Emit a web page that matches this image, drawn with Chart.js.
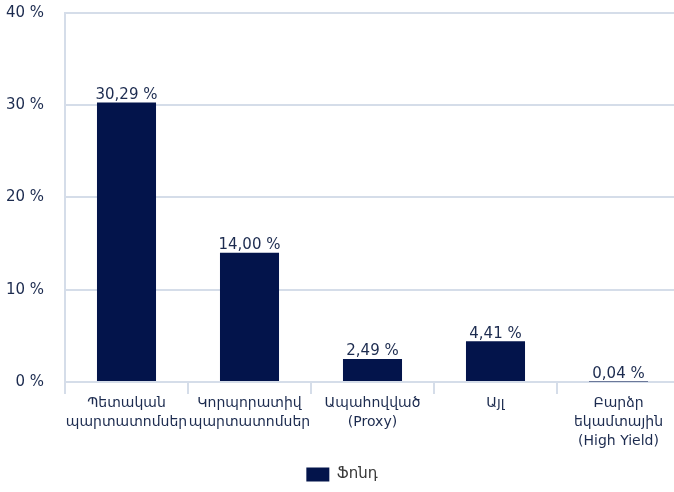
<!DOCTYPE html>
<html>
<head>
<meta charset="utf-8">
<script src="https://cdn.jsdelivr.net/npm/chart.js@4"></script>
<style>
  html, body { margin: 0; padding: 0; background: #fff; overflow: hidden; }
  #wrap { width: 680px; height: 492px; }
</style>
</head>
<body>
<div id="wrap"><canvas id="barChart"></canvas></div>
<script>
// data
const categories = [
    ['Պետական', 'պարտատոմսեր'],
    ['Կորպորատիվ', 'պարտատոմսեր'],
    ['Ապահովված', '(Proxy)'],
    ['Այլ'],
    ['Բարձր', 'եկամտային', '(High Yield)']
];
const fundValues = [30.29, 14.00, 2.49, 4.41, 0.04];
const seriesName = 'Ֆոնդ';
const yTicks = [0, 10, 20, 30, 40];

const textColor = '#1c2b4f';
const barColor = '#03144b';
const gridColor = '#d5dde9';
const fontFamily = '"DejaVu Sans", Verdana, sans-serif';
Chart.defaults.font.family = fontFamily;
Chart.defaults.font.size = 15;
Chart.defaults.color = textColor;

// labels above the bars, "30,29 %" style
const valueLabels = {
    id: 'valueLabels',
    afterDatasetsDraw(chart) {
        const ctx = chart.ctx;
        const meta = chart.getDatasetMeta(0);
        ctx.save();
        ctx.font = '15px ' + fontFamily;
        ctx.fillStyle = textColor;
        ctx.textAlign = 'center';
        ctx.textBaseline = 'bottom';
        meta.data.forEach((bar, i) => {
            const txt = fundValues[i].toFixed(2).replace('.', ',') + ' %';
            ctx.fillText(txt, bar.x, bar.y);
        });
        ctx.restore();
    }
};

new Chart(document.getElementById('barChart'), {
    type: 'bar',
    data: {
        labels: categories,
        datasets: [{
            label: seriesName,
            data: fundValues,
            backgroundColor: barColor,
            barPercentage: 0.48,
            categoryPercentage: 1
        }]
    },
    options: {
        responsive: true,
        maintainAspectRatio: false,
        animation: false,
        layout: { padding: { top: 13, right: 0, left: 4, bottom: 0 } },
        plugins: {
            legend: {
                position: 'bottom',
                labels: {
                    boxWidth: 23, boxHeight: 14, padding: 8,
                    color: '#3a3a3a', font: { size: 15 }
                }
            },
            tooltip: { enabled: false }
        },
        scales: {
            y: {
                min: 0,
                max: 40,
                afterBuildTicks: axis => { axis.ticks = yTicks.map(v => ({ value: v })); },
                afterFit: axis => { axis.width = 61; axis.paddingTop = 0; axis.paddingBottom = 0; },
                ticks: { callback: v => v + ' %', padding: 21, color: textColor },
                grid: { color: gridColor, lineWidth: 2, drawTicks: false },
                border: { color: gridColor, width: 2 }
            },
            x: {
                afterFit: axis => { axis.paddingLeft = 0; axis.paddingRight = 0; axis.height += 8; },
                ticks: { autoSkip: false, maxRotation: 0, padding: 0, color: textColor, font: { size: 14, lineHeight: 1.36 } },
                grid: { drawOnChartArea: false, color: gridColor, lineWidth: 2, tickLength: 12, offset: true },
                border: { color: gridColor, width: 2 }
            }
        }
    },
    plugins: [valueLabels]
});
</script>
</body>
</html>
